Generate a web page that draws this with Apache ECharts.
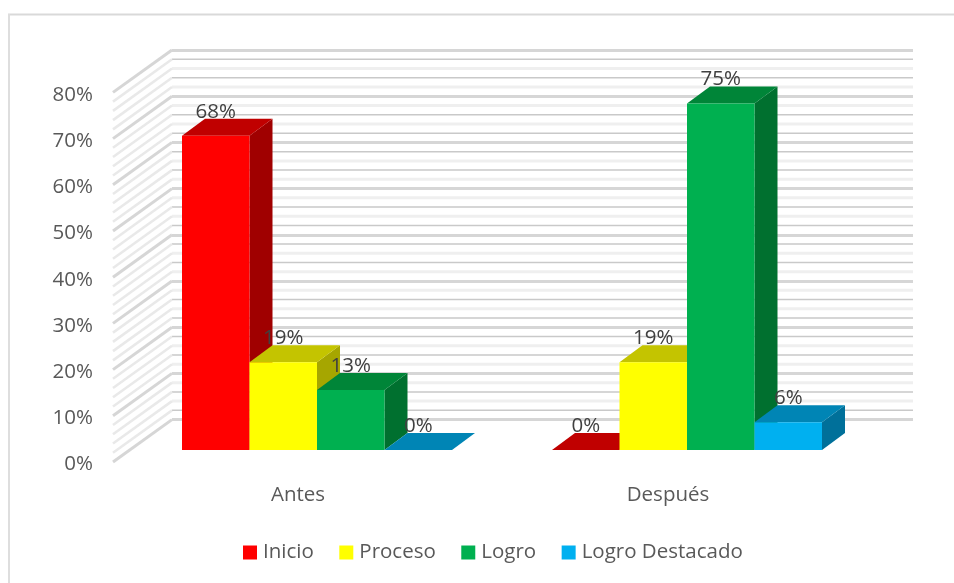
<!DOCTYPE html>
<html><head><meta charset="utf-8">
<style>html,body{margin:0;padding:0;background:#fff}#c{width:954px;height:583px}</style>
<script src="https://cdn.jsdelivr.net/npm/echarts@6/dist/echarts.min.js"></script>
</head><body><div id="c"></div>
<script>
var categories = ['Antes', 'Después'];
var inicio = [68, 0];
var proceso = [19, 19];
var logro = [13, 75];
var destacado = [0, 6];
var seriesNames = ['Inicio', 'Proceso', 'Logro', 'Logro Destacado'];
var wallTicks = [0,2,4,6,8,10,12,14,16,18,20,22,24,26,28,30,32,34,36,38,40,42,44,46,48,50,52,54,56,58,60,62,64,66,68,70,72,74,76,78,80];
var palettes = [
  {front:'#FF0000', top:'#C00000', side:'#A00000'},
  {front:'#FFFF00', top:'#C4C400', side:'#A6A600'},
  {front:'#00B050', top:'#008538', side:'#00702F'},
  {front:'#00B0F0', top:'#0085B5', side:'#00709A'}
];
var FONT = '"Open Sans", sans-serif';
var barW = 67.5, depthX = 23, depthY = 17, planeX = 19, planeY = -12;

function barSeries(name, values, idx) {
  var pal = palettes[idx];
  return {
    name: name, type: 'custom', xAxisIndex: 1, yAxisIndex: 1, z: 5 + idx,
    itemStyle: {color: pal.front},
    data: values.map(function (v, i) { return [i, v]; }),
    renderItem: function (params, api) {
      var base = api.coord([api.value(0), 0]);
      var top = api.coord([api.value(0), api.value(1)]);
      var x0 = base[0] + planeX + (idx - 2) * barW, x1 = x0 + barW;
      var yb = base[1] + planeY, yt = top[1] + planeY;
      var ch = [
        {type:'polygon', shape:{points:[[x1,yb],[x1+depthX,yb-depthY],[x1+depthX,yt-depthY],[x1,yt]]}, style:{fill:pal.side}},
        {type:'polygon', shape:{points:[[x0,yt],[x0+depthX,yt-depthY],[x1+depthX,yt-depthY],[x1,yt]]}, style:{fill:pal.top}},
        {type:'rect', shape:{x:x0,y:yt,width:barW,height:yb-yt}, style:{fill:pal.front}},
        {type:'text', z2: 50, style:{x:(x0+x1)/2, y:yt-24, text:api.value(1)+'%', align:'center', verticalAlign:'middle', fill:'#404040', font:'20.5px '+FONT}}
      ];
      return {type:'group', children:ch};
    }
  };
}

var chart = echarts.init(document.getElementById('c'), null, {renderer:'canvas'});
chart.setOption({
  animation: false,
  backgroundColor: '#fff',
  graphic: [
    {type:'line', z:-1, shape:{x1:8,y1:14.5,x2:954,y2:14.5}, style:{stroke:'#D9D9D9', lineWidth:2}},
    {type:'line', z:-1, shape:{x1:9,y1:14,x2:9,y2:583}, style:{stroke:'#DEDEDE', lineWidth:2}}
  ],
  grid: [
    {left:172, top:50, width:741, height:369.6},
    {left:113, top:92.4, width:740, height:369.6}
  ],
  xAxis: [
    {gridIndex:0, type:'category', data:categories, axisLine:{show:false}, axisTick:{show:false}, axisLabel:{show:false}, splitLine:{show:false}},
    {gridIndex:1, type:'category', data:categories, axisLine:{show:false}, axisTick:{show:false}, splitLine:{show:false},
     axisLabel:{color:'#595959', fontFamily:FONT, fontSize:20.5, margin:23}}
  ],
  yAxis: [
    {gridIndex:0, type:'value', min:0, max:80, interval:10, axisLine:{show:false}, axisTick:{show:false}, axisLabel:{show:false},
     splitLine:{show:true, lineStyle:{color:'#D6D6D6', width:3}}},
    {gridIndex:1, type:'value', min:0, max:80, interval:10, axisLine:{show:false}, axisTick:{show:false}, splitLine:{show:false},
     axisLabel:{formatter:'{value}%', color:'#595959', fontFamily:FONT, fontSize:20.5, margin:20, verticalAlign:'top', lineHeight:5}}
  ],
  legend: {
    top: 537, left: 238, icon:'rect', itemWidth:14, itemHeight:14, itemGap:25.5, selectedMode:false,
    data: seriesNames,
    textStyle:{color:'#595959', fontFamily:FONT, fontSize:20.5, padding:[0,0,0,1]}
  },
  series: [
    {type:'custom', xAxisIndex:0, yAxisIndex:0, z:1, silent:true,
     data: wallTicks.map(function (t) { return [0, t]; }),
     renderItem: function (params, api) {
       var v = api.value(1), p = api.coord([0, v]), g = params.coordSys;
       if (v % 10 === 0) return null;
       var dark = v % 4 === 2;
       return {type:'line', shape:{x1:g.x, y1:p[1], x2:g.x+g.width, y2:p[1]},
         style:{stroke: dark ? '#C9C9C9' : '#EFEFEF', lineWidth: dark ? 1.5 : 3}};
     }},
    {type:'custom', xAxisIndex:1, yAxisIndex:1, z:1, silent:true,
     data: wallTicks.map(function (t) { return [0, t]; }),
     renderItem: function (params, api) {
       var p = api.coord([0, api.value(1)]);
       var g = params.coordSys, major = api.value(1) % 10 === 0;
       return {type:'line', shape:{x1:g.x, y1:p[1], x2:g.x+59, y2:p[1]-42.4},
         style:{stroke: major ? '#D6D6D6' : '#E9E9E9', lineWidth: major ? 3 : 2.5}};
     }},
    barSeries(seriesNames[0], inicio, 0),
    barSeries(seriesNames[1], proceso, 1),
    barSeries(seriesNames[2], logro, 2),
    barSeries(seriesNames[3], destacado, 3)
  ]
});
</script></body></html>
